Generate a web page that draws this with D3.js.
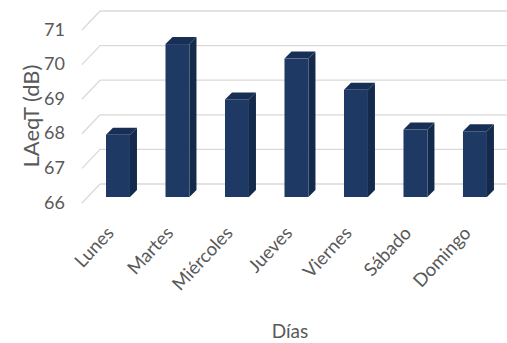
<!DOCTYPE html>
<html>
<head>
<meta charset="utf-8">
<script src="https://cdn.jsdelivr.net/npm/d3@7/dist/d3.min.js"></script>
<style>
  html, body { margin: 0; padding: 0; background: #ffffff; }
  svg { display: block; }
  text { font-family: Lato, "Open Sans", sans-serif; fill: #595959; }
</style>
</head>
<body>
<div id="chart"></div>
<script>
// Nivel sonoro equivalente medio por día de la semana
const dias = ["Lunes", "Martes", "Miércoles", "Jueves", "Viernes", "Sábado", "Domingo"];
const laeqt = [67.8, 70.42, 68.82, 70.0, 69.1, 67.95, 67.9];
const yTicks = [66, 67, 68, 69, 70, 71];
const yTitle = "LAeqT (dB)";
const xTitle = "Días";

const W = 507, H = 343;
const svg = d3.select("#chart").append("svg")
  .attr("width", W).attr("height", H);

// Back wall value scale and oblique offsets of the 3D box
const yBack = d3.scaleLinear().domain([66, 71]).range([184, 11]);
const wallLeft = 100;
const floorDx = -18, floorDy = 19;     // back wall -> front edge of floor
const barDy = 13;                      // back wall -> front face of the bars
const depthX = 7, depthY = -7;         // bar depth (front -> back)

// Category positions on the front plane of the bars
const x = d3.scaleBand().domain(dias)
  .range([76.25, 516.7]).paddingInner(0.597).paddingOuter(0.5);
const bw = x.bandwidth();
const yFront = v => yBack(v) + barDy;

const grid = "#d9d9d9";

// Gridlines on the back wall plus the diagonal lines across the side wall
const g = svg.append("g");
g.selectAll("line.h").data(yTicks).join("line")
  .attr("x1", wallLeft).attr("x2", W)
  .attr("y1", d => yBack(d)).attr("y2", d => yBack(d))
  .attr("stroke", grid).attr("stroke-width", 1.3);
g.selectAll("line.d").data(yTicks).join("line")
  .attr("x1", wallLeft).attr("y1", d => yBack(d))
  .attr("x2", wallLeft + floorDx).attr("y2", d => yBack(d) + floorDy)
  .attr("stroke", grid).attr("stroke-width", 1.3);

// Value labels of the vertical axis
svg.append("g").selectAll("text").data(yTicks).join("text")
  .attr("x", 65).attr("y", d => yBack(d) + floorDy + 1)
  .attr("text-anchor", "end").attr("dominant-baseline", "middle")
  .style("font-size", "18px")
  .text(d => d);

// 3D bars: side, top and front faces
const bars = svg.append("g").selectAll("g").data(dias.map((d, i) => ({ dia: d, v: laeqt[i] })))
  .join("g");

bars.append("path")
  .attr("fill", "#142a4b")
  .attr("d", d => {
    const x0 = x(d.dia) + bw, yt = yFront(d.v), yb = yFront(66);
    return `M${x0},${yt}L${x0 + depthX},${yt + depthY}L${x0 + depthX},${yb + depthY}L${x0},${yb}Z`;
  });
bars.append("path")
  .attr("fill", "#182f55")
  .attr("d", d => {
    const x0 = x(d.dia), yt = yFront(d.v);
    return `M${x0},${yt}L${x0 + depthX},${yt + depthY}L${x0 + bw + depthX},${yt + depthY}L${x0 + bw},${yt}Z`;
  });
bars.append("rect")
  .attr("fill", "#1e3a64")
  .attr("x", d => x(d.dia)).attr("width", bw)
  .attr("y", d => yFront(d.v))
  .attr("height", d => yFront(66) - yFront(d.v));

// Category labels, rotated
svg.append("g").selectAll("text").data(dias).join("text")
  .attr("text-anchor", "end")
  .attr("transform", d => `translate(${x(d) + bw / 2 - 3},${234}) rotate(-47)`)
  .style("font-size", "18.5px")
  .text(d => d);

// Axis titles
svg.append("text")
  .attr("transform", `translate(39,116) rotate(-90)`)
  .attr("text-anchor", "middle")
  .style("font-size", "22px")
  .text(yTitle);

svg.append("text")
  .attr("x", 290).attr("y", 338)
  .attr("text-anchor", "middle")
  .style("font-size", "19px")
  .text(xTitle);
</script>
</body>
</html>
